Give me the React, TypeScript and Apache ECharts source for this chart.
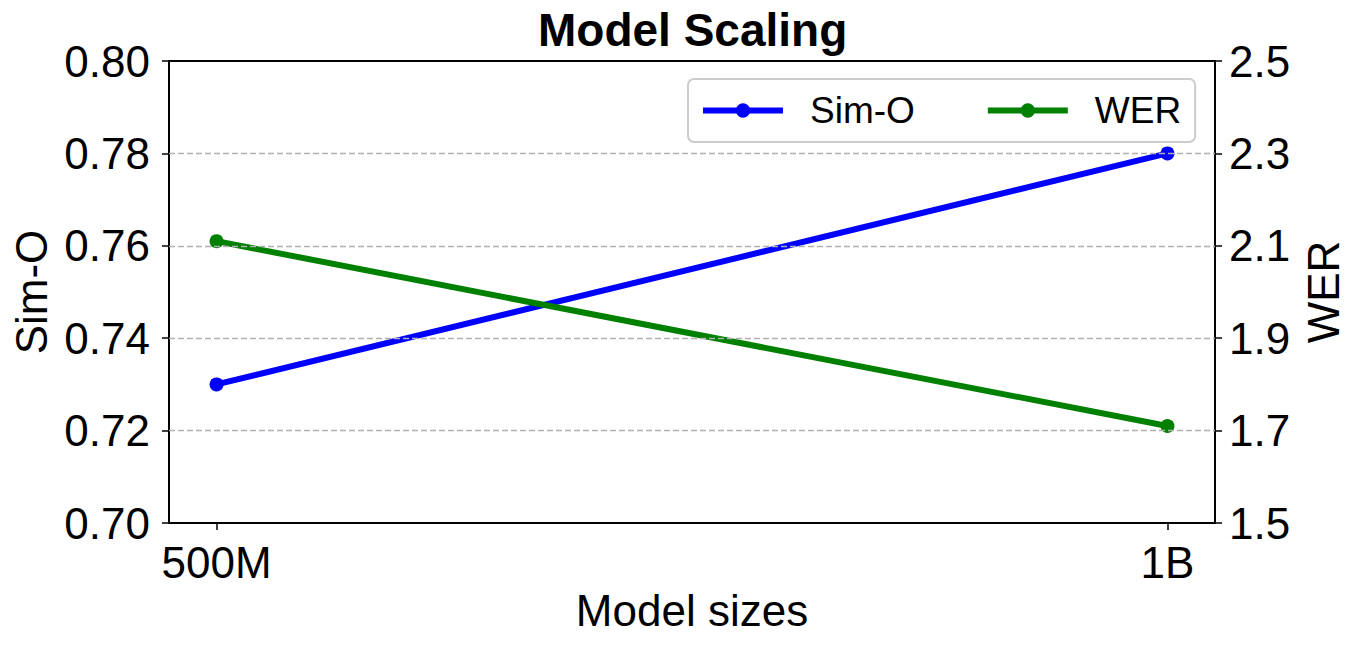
import React, { useEffect, useRef } from "react";
import * as echarts from "echarts";

// model sizes on the x axis, placed at index positions 0 and 1
const sizes = ["500M", "1B"];
const simO = [0.73, 0.78];
const wer = [2.11, 1.71];
// dashed horizontal grid lines (left axis values)
const gridVals = [0.72, 0.74, 0.76, 0.78];

const FONT = '"Liberation Sans", Arial, sans-serif';

const App = () => {
  const chartRef = useRef<HTMLDivElement>(null);

  useEffect(() => {
    if (!chartRef.current) return;
    const chart = echarts.init(chartRef.current, undefined, { renderer: "svg" });

    const tickStyle = { show: true, inside: false, length: 7, lineStyle: { color: "#000", width: 1.5 } };
    const axisLine = { show: true, onZero: false, lineStyle: { color: "#000", width: 2 } };

    const options = {
      animation: false,
      backgroundColor: "#fff",
      textStyle: { fontFamily: FONT },
      title: {
        text: "Model Scaling",
        left: 538,
        top: 7,
        padding: 0,
        textStyle: { fontFamily: FONT, fontSize: 46, fontWeight: "bold", color: "#000" },
      },
      grid: {
        left: 169,
        right: 144,
        top: 61,
        bottom: 122,
        outerBoundsMode: "none",
        containLabel: false,
        show: true,
        borderColor: "#000",
        borderWidth: 2,
        backgroundColor: "transparent",
      },
      legend: {
        left: 688,
        top: 79,
        orient: "horizontal",
        itemWidth: 80,
        itemHeight: 18,
        itemGap: 70,
        padding: [13, 14, 13, 12],
        borderColor: "#cccccc",
        borderWidth: 2,
        borderRadius: 6,
        backgroundColor: "rgba(255,255,255,0.8)",
        lineStyle: { width: 6 },
        textStyle: { fontFamily: FONT, fontSize: 37, color: "#000", padding: [0, 0, 0, 22] },
        data: ["Sim-O", "WER"],
      },
      xAxis: {
        type: "value",
        min: -0.05,
        max: 1.05,
        name: "Model sizes",
        nameLocation: "middle",
        nameGap: 49,
        nameTextStyle: { fontFamily: FONT, fontSize: 44, color: "#000" },
        axisLine,
        axisTick: { ...tickStyle, customValues: [0, 1] },
        axisLabel: {
          customValues: [0, 1],
          formatter: (v: number) => sizes[Math.round(v)] ?? "",
          fontFamily: FONT,
          fontSize: 44,
          color: "#000",
          margin: 17,
        },
        splitLine: { show: false },
      },
      yAxis: [
        {
          type: "value",
          min: 0.7,
          max: 0.8,
          interval: 0.02,
          position: "left",
          name: "Sim-O",
          nameLocation: "middle",
          nameGap: 115,
          nameTextStyle: { fontFamily: FONT, fontSize: 44, color: "#000" },
          axisLine,
          axisTick: tickStyle,
          axisLabel: {
            formatter: (v: number) => v.toFixed(2),
            fontFamily: FONT,
            fontSize: 44,
            color: "#000",
            margin: 19,
          },
          splitLine: { show: false },
        },
        {
          type: "value",
          min: 1.5,
          max: 2.5,
          interval: 0.2,
          position: "right",
          name: "WER",
          nameLocation: "middle",
          nameGap: 86,
          nameRotate: 90,
          nameTextStyle: { fontFamily: FONT, fontSize: 44, color: "#000" },
          axisLine,
          axisTick: tickStyle,
          axisLabel: {
            formatter: (v: number) => v.toFixed(1),
            fontFamily: FONT,
            fontSize: 44,
            color: "#000",
            margin: 14,
          },
          splitLine: { show: false },
        },
      ],
      series: [
        {
          // carries only the grid lines, drawn beneath the data lines
          name: "grid",
          type: "line",
          yAxisIndex: 0,
          data: [],
          z: 1,
          markLine: {
            silent: true,
            symbol: "none",
            label: { show: false },
            lineStyle: { color: "#b0b0b0", width: 1.3, type: [6, 3] },
            data: gridVals.map((v) => ({ yAxis: v })),
          },
        },
        {
          name: "Sim-O",
          type: "line",
          yAxisIndex: 0,
          data: simO.map((v, i) => [i, v]),
          symbol: "circle",
          symbolSize: 14,
          z: 3,
          lineStyle: { color: "#0000ff", width: 6 },
          itemStyle: { color: "#0000ff" },
        },
        {
          name: "WER",
          type: "line",
          yAxisIndex: 1,
          data: wer.map((v, i) => [i, v]),
          symbol: "circle",
          symbolSize: 14,
          z: 3,
          lineStyle: { color: "#008000", width: 6 },
          itemStyle: { color: "#008000" },
        },
      ],
    };

    chart.setOption(options);

    return () => {
      chart.dispose();
    };
  }, []);

  return (
    <div
      ref={chartRef}
      style={{ position: "fixed", left: 0, top: 0, width: "1359px", height: "645px" }}
    />
  );
};

export default App;
